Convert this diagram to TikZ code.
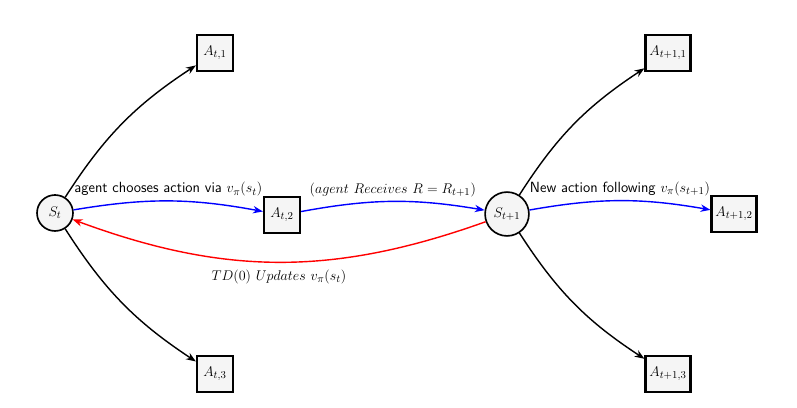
\documentclass[tikz,border=0pt]{standalone}
\usepackage{amsmath,amssymb}
\usepackage{xcolor}
\definecolor{nodefill}{RGB}{245, 245, 245}
\usepackage{tikz}
\usetikzlibrary{arrows.meta, positioning}

\begin{document}
\begin{tikzpicture}[>=Stealth, font=\fontsize{12.6}{15}\selectfont,
    state/.style={circle, draw, line width=1.4pt, fill=nodefill, minimum size=1.08cm, inner sep=4.5pt},
    action/.style={rectangle, draw, line width=1.9pt, fill=nodefill, minimum size=1.08cm},
    branch/.style={->, line width=1.2pt},
    follow/.style={->, line width=1.2pt, blue},
    update/.style={->, line width=1.2pt, red}]
    \useasboundingbox (0,0) rectangle (23.91,12.21);

    % states
    \node[state] (St) at (1.65,5.82) {$S_t$};
    \node[state] (Stn) at (15.21,5.79) {$S_{t+1}$};

    % actions from S_t
    \node[action] (At1) at (6.45,10.62) {$A_{t,1}$};
    \node[action] (At2) at (8.46,5.76) {$A_{t,2}$};
    \node[action] (At3) at (6.45,0.99) {$A_{t,3}$};

    % actions from S_{t+1}
    \node[action] (Atn1) at (20.04,10.62) {$A_{t+1,1}$};
    \node[action] (Atn2) at (22.02,5.79) {$A_{t+1,2}$};
    \node[action] (Atn3) at (20.04,0.99) {$A_{t+1,3}$};

    \draw[branch] (St) to[bend left=12] (At1);
    \draw[branch] (St) to[bend right=12] (At3);
    \draw[follow] (St) to[bend left=10] node[above, text=black] {\sffamily agent chooses action via $v_\pi(s_t)$} (At2);
    \draw[follow] (At2) to[bend left=10] node[above, text=black] {$(agent\ Receives\ R = R_{t+1})$} (Stn);

    \draw[branch] (Stn) to[bend left=12] (Atn1);
    \draw[branch] (Stn) to[bend right=12] (Atn3);
    \draw[follow] (Stn) to[bend left=10] node[above, text=black] {\sffamily New action following $v_\pi(s_{t+1})$} (Atn2);

    \draw[update] (Stn) to[bend left=20] node[below=3pt, text=black] {$TD(0)\ Updates\ v_\pi(s_t)$} (St);
\end{tikzpicture}
\end{document}
